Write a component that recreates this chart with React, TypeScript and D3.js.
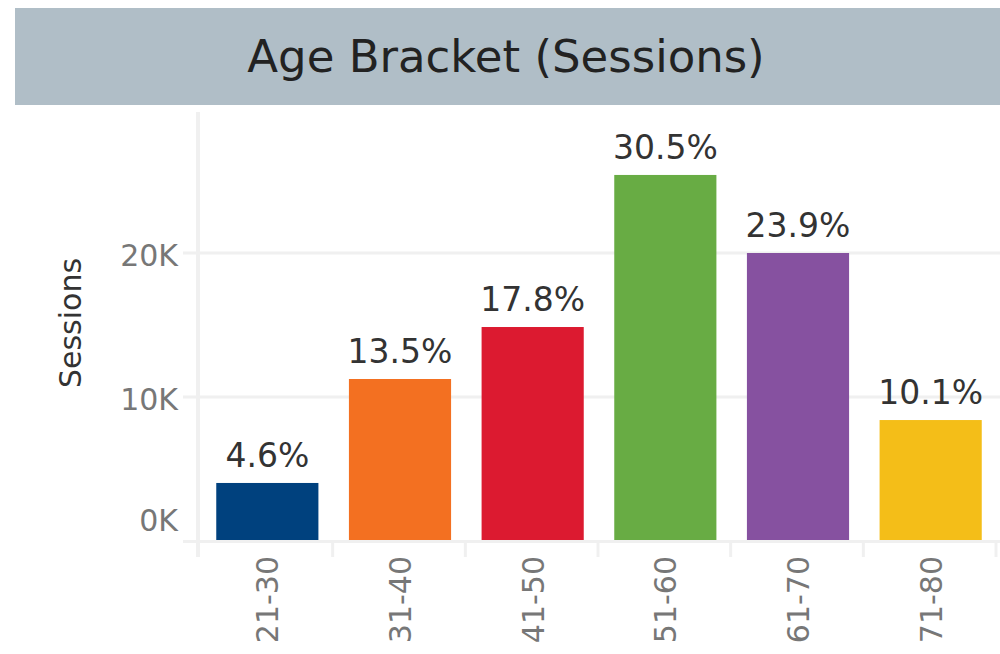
import React, { useEffect, useRef } from "react";
import * as d3 from "d3";

// age bracket sessions (values in sessions)
const categories = ["21-30", "31-40", "41-50", "51-60", "61-70", "71-80"];
const sessions = [4030, 11250, 14860, 25420, 20000, 8400];
const shareLabels = ["4.6%", "13.5%", "17.8%", "30.5%", "23.9%", "10.1%"];
const barColors = ["#00417e", "#f37021", "#dc1a30", "#68ac44", "#8651a0", "#f4be18"];
const yTicks = [0, 10000, 20000];

const FONT = "'DejaVu Sans', Verdana, sans-serif";

const App = () => {
    const container = useRef<SVGSVGElement>(null);

    useEffect(() => {
        const svg = d3.select(container.current);
        svg.selectAll("*").remove();

        const width = 1000, height = 654;

        // title band
        svg.append("rect")
            .attr("x", 15).attr("y", 8)
            .attr("width", width - 15).attr("height", 97)
            .attr("fill", "#b0bec7");

        svg.append("text")
            .attr("x", 506).attr("y", 72)
            .attr("text-anchor", "middle")
            .attr("font-family", FONT)
            .attr("font-size", 45)
            .attr("fill", "#222")
            .text("Age Bracket (Sessions)");

        const x = d3.scaleBand()
            .domain(categories)
            .range([199, 995])
            .paddingInner(0.23)
            .paddingOuter(0.115);

        const y = d3.scaleLinear()
            .domain([0, 30000])
            .range([541, 109]);

        // gridlines
        svg.selectAll("grid")
            .data(yTicks.filter((d) => d > 0))
            .enter()
            .append("line")
            .attr("x1", 183).attr("x2", width)
            .attr("y1", (d) => y(d)).attr("y2", (d) => y(d))
            .attr("stroke", "#f0f0f0")
            .attr("stroke-width", 3);

        // vertical axis line
        svg.append("line")
            .attr("x1", 198).attr("x2", 198)
            .attr("y1", 112).attr("y2", 557)
            .attr("stroke", "#f0f0f0")
            .attr("stroke-width", 4);

        // tick labels
        svg.selectAll("ytick")
            .data(yTicks)
            .enter()
            .append("text")
            .attr("x", 178)
            .attr("y", (d) => Math.min(y(d) + 13, y(0) - 10))
            .attr("text-anchor", "end")
            .attr("font-family", FONT)
            .attr("font-size", 30)
            .attr("fill", "#777")
            .text((d) => d3.format("d")(d / 1000) + "K");

        svg.append("text")
            .attr("transform", "translate(81,323)rotate(-90)")
            .attr("text-anchor", "middle")
            .attr("font-family", FONT)
            .attr("font-size", 30)
            .attr("fill", "#333")
            .text("Sessions");

        // bars
        svg.selectAll("bars")
            .data(categories)
            .enter()
            .append("rect")
            .attr("x", (d) => x(d)! + 2)
            .attr("y", (d, i) => y(sessions[i]))
            .attr("width", x.bandwidth())
            .attr("height", (d, i) => y(0) - y(sessions[i]))
            .attr("fill", (d, i) => barColors[i]);

        // baseline + category ticks
        svg.append("line")
            .attr("x1", 183).attr("x2", width)
            .attr("y1", 541.5).attr("y2", 541.5)
            .attr("stroke", "#f0f0f0")
            .attr("stroke-width", 3);

        svg.selectAll("xtick")
            .data(categories)
            .enter()
            .append("line")
            .attr("x1", (d) => x(d)! + x.bandwidth() + x.step() * 0.115 + 1)
            .attr("x2", (d) => x(d)! + x.bandwidth() + x.step() * 0.115 + 1)
            .attr("y1", 541).attr("y2", 557)
            .attr("stroke", "#f0f0f0")
            .attr("stroke-width", 3);

        // value labels
        svg.selectAll("vlabel")
            .data(categories)
            .enter()
            .append("text")
            .attr("x", (d) => x(d)! + 2 + x.bandwidth() / 2)
            .attr("y", (d, i) => y(sessions[i]) - 16)
            .attr("text-anchor", "middle")
            .attr("font-family", FONT)
            .attr("font-size", 33)
            .attr("fill", "#333")
            .text((d, i) => shareLabels[i]);

        // category labels
        svg.selectAll("xlabel")
            .data(categories)
            .enter()
            .append("text")
            .attr("transform", (d) => `translate(${x(d)! + 2 + x.bandwidth() / 2 + 11},556)rotate(-90)`)
            .attr("text-anchor", "end")
            .attr("font-family", FONT)
            .attr("font-size", 30)
            .attr("fill", "#777")
            .text((d) => d);
    }, []);

    return (
        <svg ref={container} width={1000} height={654}
            style={{ position: "absolute", left: 0, top: 0, background: "#fff" }}></svg>
    );
};

export default App;
